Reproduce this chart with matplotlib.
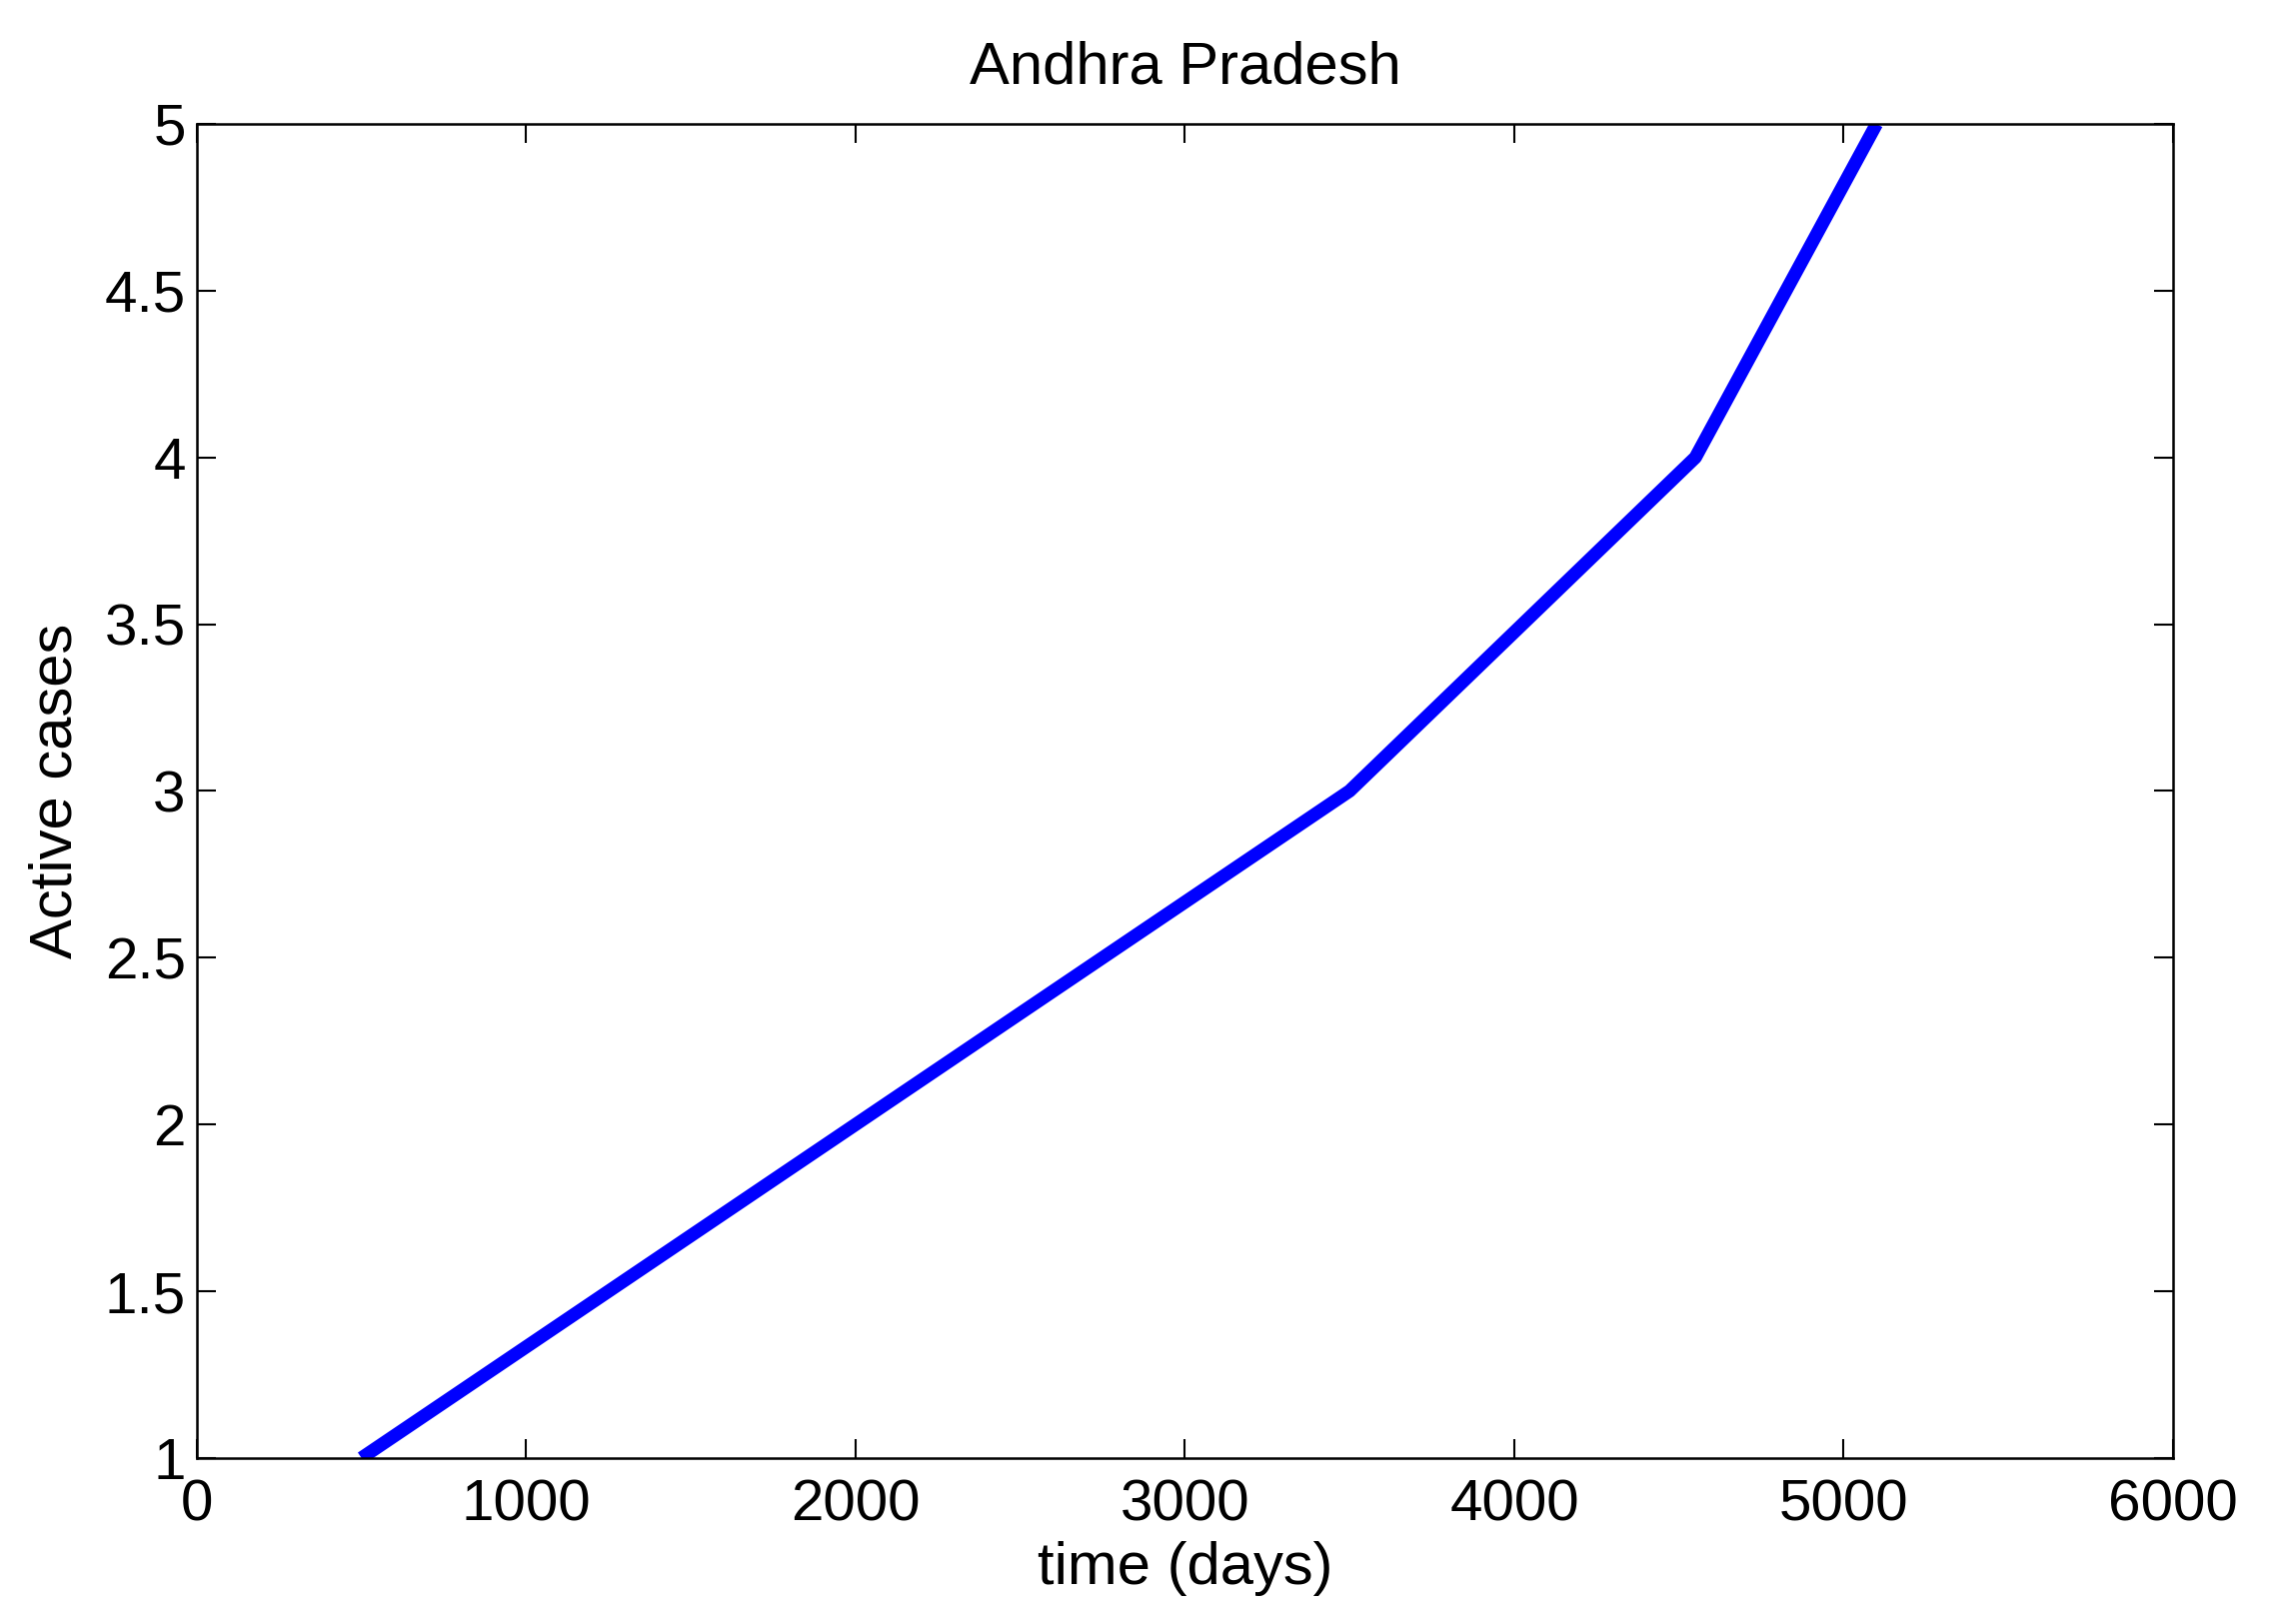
import numpy as np
import matplotlib
matplotlib.use('Agg')
from matplotlib import pyplot as plt

# values
days = [500, 2000, 3500, 4550, 5100]
cases = [1, 2, 3, 4, 5]

plt.rcParams['font.family'] = ['Liberation Sans', 'DejaVu Sans']

fig = plt.figure(figsize=(22.74, 16.25), dpi=100)
ax = fig.add_axes([0.0866, 0.1022, 0.8694, 0.8215])

ax.plot(days, cases, color='#0000ff', linewidth=9.5, solid_capstyle='butt')

ax.set_xlim(0, 6000)
ax.set_ylim(1, 5)
ax.set_xticks(np.arange(0, 6001, 1000))
ax.set_yticks(np.arange(1, 5.01, 0.5))
ax.set_yticklabels(['1', '1.5', '2', '2.5', '3', '3.5', '4', '4.5', '5'])

ax.tick_params(direction='in', length=14, width=1.5, labelsize=42,
               top=True, right=True)
ax.tick_params(axis='x', pad=15)
ax.tick_params(axis='y', pad=8)
for s in ax.spines.values():
    s.set_linewidth(1.8)

ax.set_xlabel('time (days)', fontsize=43, labelpad=6)
ax.set_ylabel('Active cases', fontsize=43, labelpad=15)
ax.set_title('Andhra Pradesh', fontsize=43, pad=29)

plt.savefig('out.png', dpi=100)
